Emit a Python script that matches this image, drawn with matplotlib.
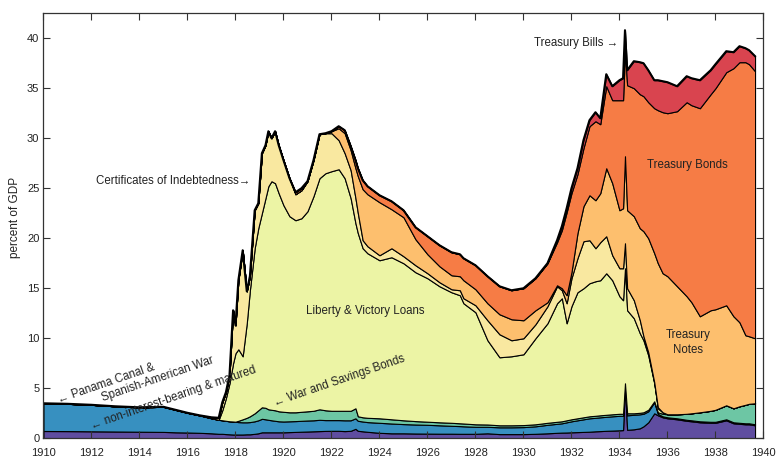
import numpy as np
import matplotlib
matplotlib.use("Agg")
import matplotlib.pyplot as plt

plt.rcParams["font.family"] = ["Liberation Sans", "DejaVu Sans"]

# time (fractional year) and debt components, percent of GDP
years = [
    1910.0, 1911.0, 1912.0, 1913.0, 1914.0, 1915.0, 1915.5, 1916.0, 1916.5, 1917.0,
    1917.3, 1917.45, 1917.6, 1917.75, 1917.9, 1918.0, 1918.12, 1918.3, 1918.47, 1918.6,
    1918.8, 1918.95, 1919.1, 1919.25, 1919.37, 1919.5, 1919.65, 1919.8, 1920.0, 1920.25,
    1920.5, 1920.75, 1921.0, 1921.25, 1921.5, 1921.75, 1922.0, 1922.3, 1922.55, 1922.8,
    1923.0, 1923.1, 1923.3, 1923.5, 1924.0, 1924.5, 1925.0, 1925.5, 1926.0, 1926.5,
    1927.0, 1927.35, 1927.5, 1928.0, 1928.5, 1929.0, 1929.5, 1930.0, 1930.5, 1931.0,
    1931.4, 1931.6, 1931.8, 1932.0, 1932.25, 1932.5, 1932.75, 1933.0, 1933.2, 1933.45,
    1933.7, 1934.0, 1934.15, 1934.23, 1934.32, 1934.6, 1934.85, 1935.0, 1935.2, 1935.45,
    1935.6, 1935.8, 1936.0, 1936.4, 1936.8, 1937.0, 1937.35, 1937.8, 1938.0, 1938.45,
    1938.75, 1939.0, 1939.25, 1939.4, 1939.65,
]

non_interest = [
    0.73, 0.72, 0.70, 0.68, 0.66, 0.64, 0.60, 0.58, 0.55, 0.50,
    0.45, 0.45, 0.42, 0.40, 0.38, 0.38, 0.38, 0.38, 0.40, 0.40,
    0.45, 0.50, 0.60, 0.60, 0.60, 0.60, 0.60, 0.60, 0.60, 0.62,
    0.64, 0.66, 0.68, 0.70, 0.72, 0.74, 0.75, 0.75, 0.72, 0.75,
    0.95, 0.75, 0.70, 0.65, 0.55, 0.50, 0.50, 0.48, 0.47, 0.46,
    0.46, 0.45, 0.45, 0.45, 0.50, 0.42, 0.42, 0.42, 0.45, 0.50,
    0.55, 0.57, 0.58, 0.60, 0.62, 0.64, 0.66, 0.70, 0.72, 0.75,
    0.77, 0.80, 0.82, 5.30, 0.85, 0.90, 1.00, 1.20, 1.60, 2.50,
    2.30, 2.10, 2.00, 1.90, 1.75, 1.70, 1.60, 1.55, 1.55, 1.80,
    1.50, 1.45, 1.40, 1.40, 1.30,
]

panama_spanish = [
    2.77, 2.73, 2.65, 2.52, 2.44, 2.51, 2.25, 1.97, 1.75, 1.50,
    1.40, 1.35, 1.33, 1.30, 1.30, 1.28, 1.24, 1.22, 1.20, 1.22,
    1.25, 1.30, 1.35, 1.30, 1.25, 1.20, 1.15, 1.10, 1.08, 1.08,
    1.08, 1.09, 1.10, 1.10, 1.13, 1.08, 1.07, 1.07, 1.08, 1.05,
    1.05, 1.00, 0.98, 0.97, 1.00, 0.98, 0.92, 0.90, 0.88, 0.84,
    0.79, 0.77, 0.75, 0.70, 0.65, 0.68, 0.68, 0.70, 0.75, 0.85,
    0.90, 0.93, 1.02, 1.10, 1.18, 1.26, 1.34, 1.35, 1.38, 1.40,
    1.43, 1.45, 1.43, 0.10, 1.45, 1.45, 1.40, 1.25, 1.10, 1.10,
    0.15, 0.10, 0.10, 0.10, 0.10, 0.10, 0.10, 0.10, 0.10, 0.10,
    0.10, 0.10, 0.10, 0.10, 0.10,
]

war_savings = [
    0, 0, 0, 0, 0, 0, 0, 0, 0, 0,
    0, 0, 0, 0, 0, 0, 0.13, 0.30, 0.45, 0.58,
    0.80, 1.00, 1.15, 1.15, 1.05, 1.05, 1.05, 1.00, 0.97, 0.90,
    0.88, 0.90, 0.92, 0.95, 1.05, 0.98, 0.93, 0.93, 0.95, 0.95,
    1.00, 0.45, 0.42, 0.43, 0.45, 0.42, 0.38, 0.34, 0.31, 0.30,
    0.30, 0.28, 0.28, 0.25, 0.23, 0.20, 0.20, 0.20, 0.20, 0.20,
    0.20, 0.20, 0.20, 0.20, 0.20, 0.20, 0.20, 0.20, 0.20, 0.20,
    0.20, 0.20, 0.20, 0.10, 0.20, 0.15, 0.15, 0.15, 0.15, 0.10,
    0.15, 0.25, 0.30, 0.40, 0.60, 0.70, 0.90, 1.10, 1.20, 1.40,
    1.40, 1.65, 1.85, 1.95, 2.10,
]

liberty_victory = [
    0, 0, 0, 0, 0, 0, 0, 0, 0, 0,
    0, 1.00, 2.25, 3.80, 5.82, 6.84, 7.15, 6.30, 9.45, 12.6,
    16.5, 18.2, 19.4, 20.95, 22.3, 22.85, 22.7, 21.8, 20.65, 19.6,
    19.2, 19.35, 20.0, 21.45, 23.1, 23.7, 23.95, 24.15, 23.25, 21.25,
    18.5, 18.3, 16.9, 16.45, 15.8, 16.2, 15.7, 14.88, 14.34, 13.6,
    13.05, 12.8, 12.02, 11.2, 8.42, 6.80, 6.90, 7.08, 8.60, 9.95,
    11.85, 12.3, 9.70, 11.3, 12.6, 12.9, 13.3, 13.45, 13.5, 14.15,
    13.4, 11.75, 11.35, 11.5, 10.3, 9.50, 7.95, 7.20, 5.45, 1.80,
    0.40, 0.15, 0, 0, 0, 0, 0, 0, 0, 0,
    0, 0, 0, 0, 0,
]

certificates = [
    0, 0, 0, 0, 0, 0, 0, 0, 0, 0.10,
    0.20, 0.80, 0.60, 0.80, 5.30, 2.80, 6.90, 10.6, 3.20, 1.40,
    3.80, 2.50, 6.00, 5.30, 5.50, 4.30, 5.20, 4.80, 4.50, 3.80,
    2.60, 2.80, 3.00, 3.60, 4.40, 4.00, 3.80, 2.90, 2.50, 2.80,
    2.50, 2.00, 0.80, 0.70, 0.50, 0.90, 0.70, 0.70, 0.50, 0.40,
    0.30, 0.50, 0.50, 0.70, 2.00, 2.30, 1.60, 1.60, 1.40, 1.70,
    1.70, 0.80, 2.00, 2.80, 3.40, 4.70, 4.30, 3.30, 3.80, 3.70,
    2.50, 2.80, 3.20, 2.50, 2.20, 1.80, 1.30, 0.40, 0.30, 0.10,
    0.10, 0, 0, 0, 0, 0, 0, 0, 0, 0,
    0, 0, 0, 0, 0,
]

treasury_notes = [
    0, 0, 0, 0, 0, 0, 0, 0, 0, 0,
    0, 0, 0, 0, 0, 0, 0, 0, 0, 0,
    0, 0, 0, 0, 0, 0, 0, 0, 0, 0,
    0, 0, 0, 0, 0, 0, 0.20, 1.20, 2.00, 2.00,
    3.00, 3.70, 5.10, 5.20, 5.30, 3.90, 3.90, 2.60, 1.90, 1.60,
    1.40, 1.40, 1.80, 1.60, 1.70, 2.00, 2.10, 1.80, 1.40, 0.40,
    0.10, 0.20, 0.80, 0.60, 2.50, 3.50, 4.50, 4.80, 4.90, 6.80,
    7.20, 5.80, 6.00, 8.70, 7.80, 8.40, 9.20, 10.5, 11.4, 12.9,
    14.4, 13.9, 13.8, 12.8, 11.75, 11.1, 9.60, 10.05, 10.05, 10.0,
    9.20, 8.40, 6.95, 6.75, 6.50,
]

treasury_bonds = [
    0, 0, 0, 0, 0, 0, 0, 0, 0, 0,
    0, 0, 0, 0, 0, 0, 0, 0, 0, 0,
    0, 0, 0, 0, 0, 0, 0, 0, 0, 0,
    0.20, 0.20, 0, 0, 0, 0, 0, 0.20, 0.30, 0.40,
    0.80, 0.80, 0.90, 0.80, 0.70, 0.80, 0.70, 1.20, 1.80, 2.10,
    2.30, 2.20, 2.20, 2.40, 2.70, 2.80, 2.90, 3.20, 3.20, 3.90,
    4.30, 5.80, 8.30, 7.90, 5.90, 5.80, 6.90, 7.90, 6.90, 8.20,
    8.30, 11.0, 10.8, 10.6, 12.5, 12.8, 13.4, 13.5, 13.6, 14.5,
    15.3, 16.1, 16.3, 17.5, 19.4, 19.7, 20.8, 21.6, 22.1, 23.3,
    24.8, 26.0, 27.3, 27.2, 26.7,
]

treasury_bills = [
    0, 0, 0, 0, 0, 0, 0, 0, 0, 0,
    0, 0, 0, 0, 0, 0, 0, 0, 0, 0,
    0, 0, 0, 0, 0, 0, 0, 0, 0, 0,
    0, 0, 0, 0, 0, 0, 0, 0, 0, 0,
    0, 0, 0, 0, 0, 0, 0, 0, 0, 0,
    0, 0, 0, 0, 0, 0, 0, 0, 0, 0,
    0.20, 0.40, 0.40, 0.50, 0.60, 0.80, 0.60, 0.90, 0.60, 1.20,
    1.40, 2.00, 2.20, 2.00, 1.50, 2.70, 3.20, 3.30, 3.20, 2.80,
    3.00, 3.10, 3.10, 2.50, 2.60, 2.70, 2.80, 2.40, 2.40, 2.10,
    1.60, 1.60, 1.40, 1.40, 1.50,
]

COLORS = ["#5f4da0", "#3790c0", "#6dc6a4", "#ecf4a5",
          "#f9e8a0", "#fdbf6e", "#f67c45", "#d9444f"]
TXT = "#222222"


def main():
    layers = [non_interest, panama_spanish, war_savings, liberty_victory,
              certificates, treasury_notes, treasury_bonds, treasury_bills]

    fig = plt.figure(figsize=(7.78, 4.58), dpi=100)
    ax = fig.add_axes([0.0559, 0.043, 0.9254, 0.9293])

    ax.stackplot(years, *layers, colors=COLORS, edgecolor="black", linewidth=0.8)
    total = np.sum(np.array(layers), axis=0)
    ax.plot(years, total, color="black", linewidth=1.5, solid_joinstyle="round")

    ax.set_xlim(1910, 1940)
    ax.set_ylim(0, 42.55)
    ax.set_xticks(np.arange(1910, 1941, 2))
    ax.set_yticks(np.arange(0, 41, 5))
    ax.tick_params(direction="in", length=4.7, width=0.8, top=True, right=True,
                   labelsize=8, colors="#333333", labelcolor=TXT)
    ax.tick_params(axis="x", pad=7)
    ax.tick_params(axis="y", pad=3)
    for s in ax.spines.values():
        s.set_color("#333333")
        s.set_linewidth(0.9)
    ax.set_ylabel("percent of GDP", fontsize=8.5, color=TXT)
    ax.yaxis.set_label_coords(-0.031, 0.52)

    fs = 8.3
    ax.text(1918.6, 25.7, "Certificates of Indebtedness\u2192", ha="right", va="center",
            fontsize=fs, color=TXT)
    ax.text(1933.95, 39.5, "Treasury Bills \u2192", ha="right", va="center",
            fontsize=fs, color=TXT)
    ax.text(1936.85, 27.3, "Treasury Bonds", ha="center", va="center",
            fontsize=fs, color=TXT)
    ax.text(1936.85, 9.6, "Treasury\nNotes", ha="center", va="center",
            fontsize=fs, color=TXT, linespacing=1.3)
    ax.text(1923.4, 12.7, "Liberty & Victory Loans", ha="center", va="center",
            fontsize=fs, color=TXT)

    rot = dict(rotation=19, rotation_mode="anchor", ha="left", va="center",
               fontsize=fs, color=TXT)
    ax.text(1910.62, 3.85, "\u2190 Panama Canal &", **rot)
    ax.text(1912.42, 3.95, "Spanish-American War", **rot)
    ax.text(1912.0, 1.15, "\u2190 non-interest-bearing & matured", **rot)
    ax.text(1919.6, 3.5, "\u2190 War and Savings Bonds", **rot)

    fig.savefig("out.png", dpi=100)
    plt.close(fig)


if __name__ == "__main__":
    main()
